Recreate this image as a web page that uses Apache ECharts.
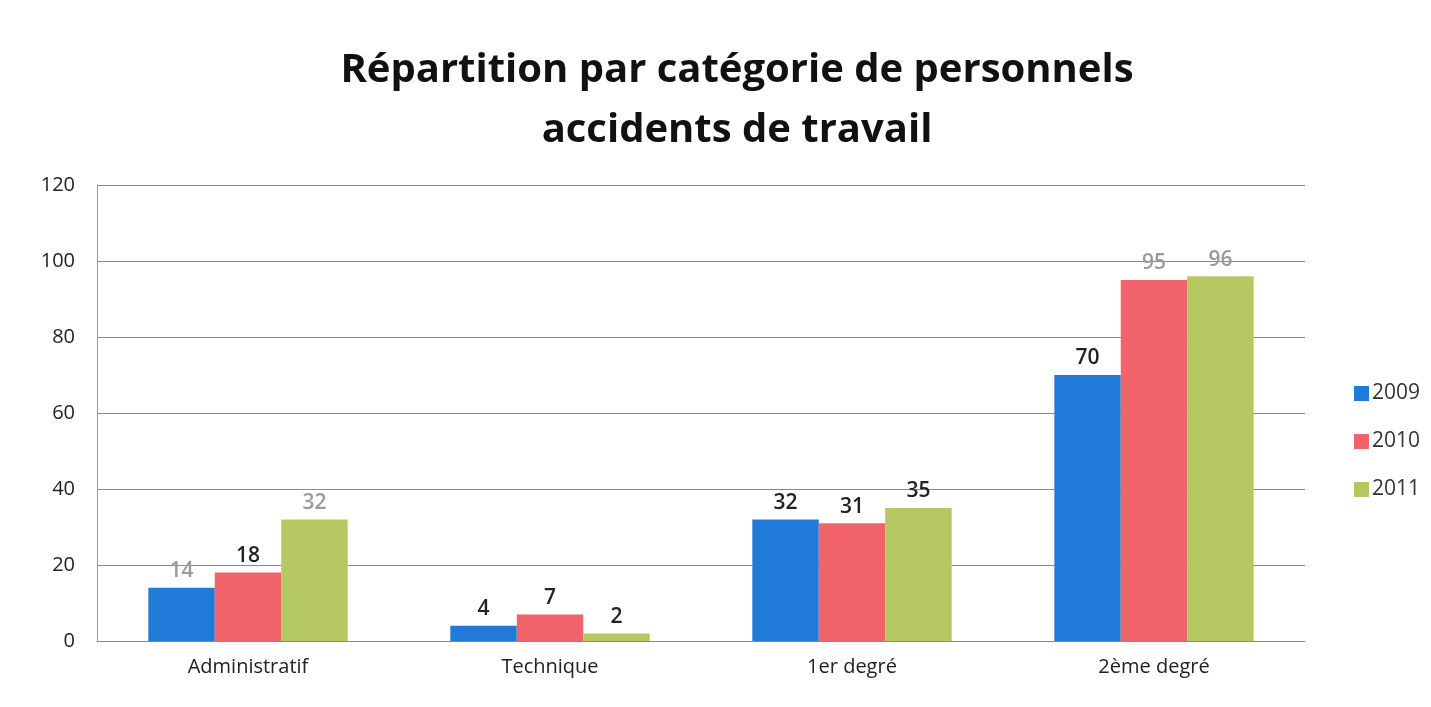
<!DOCTYPE html>
<html>
<head>
<meta charset="utf-8">
<style>
    html, body {margin:0;padding:0;background:#fff;}
    #chart {width:1431px;height:707px;}
</style>
</head>
<body>
<div id="chart"></div>
<script src="https://cdn.jsdelivr.net/npm/echarts@6/dist/echarts.min.js"></script>
<script>
var categories = ['Administratif', 'Technique', '1er degré', '2ème degré'];
var years = ['2009', '2010', '2011'];
var v2009 = [14, 4, 32, 70];
var v2010 = [18, 7, 31, 95];
var v2011 = [32, 2, 35, 96];
var yTicks = [0, 20, 40, 60, 80, 100, 120];

// couleurs des étiquettes (grisées sur le scan)
var labelColors = {
    '2009': ['#9a9a9a', '#222', '#222', '#222'],
    '2010': ['#222', '#222', '#222', '#9a9a9a'],
    '2011': ['#9a9a9a', '#222', '#222', '#9a9a9a']
};
var colors = ['#1f7ad8', '#f2636b', '#b5c862'];

function makeSeries(name, vals, color) {
    return {
        name: name,
        type: 'bar',
        barGap: '0%',
        barCategoryGap: '34%',
        itemStyle: {color: color},
        data: vals.map(function (v, i) {
            return {
                value: v,
                label: {color: labelColors[name][i]}
            };
        }),
        label: {
            show: true,
            position: 'top',
            distance: 6,
            fontSize: 21,
            fontWeight: 600,
            fontFamily: 'Open Sans'
        }
    };
}

var chart = echarts.init(document.getElementById('chart'));
chart.setOption({
    animation: false,
    textStyle: {fontFamily: 'Open Sans'},
    title: {
        text: 'Répartition par catégorie de personnels\naccidents de travail',
        left: 732,
        textAlign: 'center',
        top: 36,
        textStyle: {fontSize: 40, fontWeight: 'bold', color: '#111', lineHeight: 60, fontFamily: 'Open Sans'}
    },
    legend: {
        orient: 'vertical',
        left: 1349,
        top: 378,
        itemWidth: 15,
        itemHeight: 15,
        itemGap: 27,
        icon: 'rect',
        data: years,
        textStyle: {fontSize: 21, color: '#333', padding: [0, 0, 0, -2]}
    },
    grid: {left: 97, right: 126, top: 185, bottom: 66, containLabel: false},
    xAxis: {
        type: 'category',
        data: categories,
        axisLine: {lineStyle: {color: '#888', width: 1}},
        axisTick: {show: false},
        axisLabel: {fontSize: 20, color: '#222', margin: 16}
    },
    yAxis: {
        type: 'value',
        min: yTicks[0],
        max: yTicks[yTicks.length - 1],
        interval: 20,
        axisLine: {show: true, lineStyle: {color: '#999'}},
        axisTick: {show: false},
        splitLine: {lineStyle: {color: '#8a8a8a', width: 1}},
        axisLabel: {fontSize: 20, color: '#222', margin: 22}
    },
    series: [
        makeSeries('2009', v2009, colors[0]),
        makeSeries('2010', v2010, colors[1]),
        makeSeries('2011', v2011, colors[2])
    ]
});
</script>
</body>
</html>
